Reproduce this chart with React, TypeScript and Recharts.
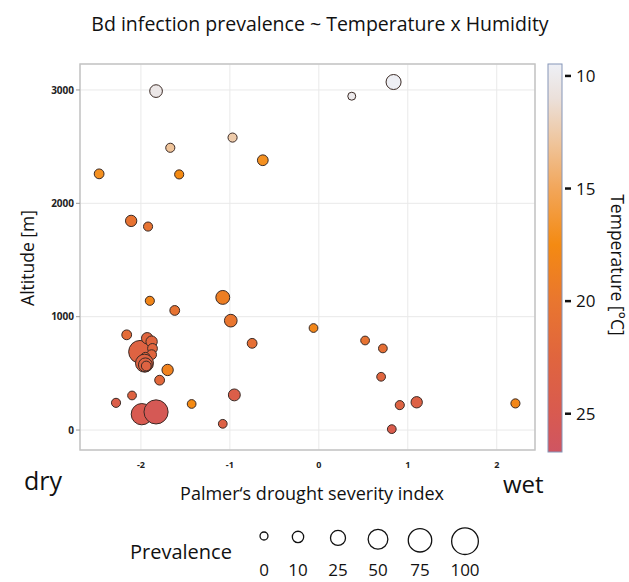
import { ScatterChart, Scatter, XAxis, YAxis, ZAxis, CartesianGrid, ReferenceArea, Cell } from 'recharts';

// Palmer drought severity index per site
const pdsi = [
  -1.83, -1.67, -0.97, -0.63, -2.47, -1.57, -2.11, -1.92, 0.84, 0.37,
  -1.90, -1.62, -1.08, -0.99, -0.75, -2.16, -2.01, -1.93, -1.88, -1.87,
  -1.88, -1.95, -1.96, -1.95, -1.94, -1.70, -1.79, -2.10, -2.28, -1.99,
  -1.83, -1.43, -0.95, -1.08, -0.06, 0.52, 0.72, 0.70, 1.10, 0.91,
  0.82, 2.21,
];
// altitude in metres
const altitude = [
  2990, 2490, 2580, 2380, 2260, 2255, 1845, 1795, 3070, 2945,
  1140, 1055, 1170, 965, 765, 840, 690, 810, 780, 720,
  665, 645, 590, 575, 565, 530, 440, 305, 240, 140,
  160, 230, 310, 55, 900, 790, 720, 470, 245, 220,
  8, 235,
];
// Bd prevalence (%)
const prevalence = [
  15, 3, 3, 8, 5, 3, 10, 3, 25, 0,
  3, 5, 20, 15, 5, 5, 70, 10, 10, 5,
  5, 3, 40, 20, 5, 10, 5, 2, 3, 60,
  80, 2, 12, 2, 2, 2, 2, 2, 10, 3,
  2, 3,
];
// mean temperature (°C)
const temperature = [
  10.3, 13, 12.5, 17, 17, 17.5, 20.5, 20.5, 9.6, 10,
  18, 20.5, 19, 20, 21, 21.5, 23, 22.5, 22.5, 22.5,
  22.5, 22.5, 23, 23, 23, 18.5, 22, 23, 24, 25,
  25.5, 17.5, 24, 23.5, 18, 20.5, 21, 22.5, 23.5, 23,
  24.5, 18,
];

const xTicks = [-2, -1, 0, 1, 2];
const yTicks = [0, 1000, 2000, 3000];
const sizeLegend = [0, 10, 25, 50, 75, 100];
const tempTicks = [10, 15, 20, 25];
const tempStopValues = [9.47, 11, 13, 15, 17.5, 20, 22.5, 25, 26.7];
const tempStopColors = ['#eef0f6', '#ebe0da', '#efc49a', '#f2a65a', '#f48a12', '#e9762f', '#e0653e', '#d85a50', '#cf5562'];

const data = pdsi.map((x, i) => ({ x, y: altitude[i], p: prevalence[i], t: temperature[i] }));

const W = 629;
const H = 582;
const AREA_MIN = 50;
const AREA_MAX = 560;
const TEMP_MIN = tempStopValues[0];
const TEMP_MAX = tempStopValues[tempStopValues.length - 1];

const hex = (c: string) => [1, 3, 5].map((k) => parseInt(c.slice(k, k + 2), 16));

function tempColor(t: number) {
  let i = 0;
  while (i < tempStopValues.length - 2 && t > tempStopValues[i + 1]) i++;
  const a = tempStopValues[i];
  const b = tempStopValues[i + 1];
  const f = Math.max(0, Math.min(1, (t - a) / (b - a)));
  const ca = hex(tempStopColors[i]);
  const cb = hex(tempStopColors[i + 1]);
  const rgb = ca.map((v, k) => Math.round(v + (cb[k] - v) * f));
  return `rgb(${rgb.join(',')})`;
}

const radius = (p: number) => Math.sqrt((AREA_MIN + ((AREA_MAX - AREA_MIN) * p) / 100) / Math.PI);

const font = '"Open Sans", "Noto Sans", sans-serif';

export default function App() {
  const barTop = 64;
  const barBottom = 452;
  const barX = 548;
  const barW = 14;
  const ty = (t: number) => barTop + ((t - TEMP_MIN) / (TEMP_MAX - TEMP_MIN)) * (barBottom - barTop);
  const legendX = [264, 298, 338, 378, 420, 465];

  return (
    <div style={{ position: 'absolute', left: 0, top: 0, width: W, height: H, background: '#fff', fontFamily: font }}>
      <ScatterChart width={W} height={H} margin={{ top: 64, right: 94, bottom: 102, left: 40 }}>
        <CartesianGrid stroke="#e9e9e9" horizontal vertical />
        <XAxis
          type="number"
          dataKey="x"
          domain={[-2.685, 2.43]}
          ticks={xTicks}
          allowDataOverflow
          axisLine={false}
          tickLine={false}
          tickMargin={6}
          height={30}
          tick={{ fill: '#222', fontSize: 9, fontWeight: 700, fontFamily: font }}
        />
        <YAxis
          type="number"
          dataKey="y"
          domain={[-176, 3229]}
          ticks={yTicks}
          allowDataOverflow
          axisLine={false}
          tickSize={4}
          tickLine={{ stroke: '#999' }}
          width={40}
          tick={{ fill: '#222', fontSize: 10, fontWeight: 700, fontFamily: font }}
        />
        <ZAxis type="number" dataKey="p" domain={[0, 100]} range={[AREA_MIN, AREA_MAX]} />
        <ReferenceArea x1={-2.685} x2={2.43} y1={-176} y2={3229} fill="none" stroke="#c4c4c4" strokeWidth={1.5} ifOverflow="visible" />
        <Scatter data={data} isAnimationActive={false} stroke="#3a2a25" strokeWidth={1}>
          {data.map((d, i) => (
            <Cell key={i} fill={tempColor(d.t)} />
          ))}
        </Scatter>
      </ScatterChart>

      <svg width={W} height={H} style={{ position: 'absolute', left: 0, top: 0, pointerEvents: 'none' }} fontFamily={font}>
        <defs>
          <linearGradient id="tempGrad" x1="0" y1="0" x2="0" y2="1">
            {tempStopValues.map((t, i) => (
              <stop key={i} offset={(t - TEMP_MIN) / (TEMP_MAX - TEMP_MIN)} stopColor={tempStopColors[i]} />
            ))}
          </linearGradient>
        </defs>
        <text x={320} y={31} textAnchor="middle" fontSize={19.5} fill="#111">
          Bd infection prevalence ~ Temperature x Humidity
        </text>
        <text transform="translate(34,258) rotate(-90)" textAnchor="middle" fontSize={17.5} fill="#111">
          Altitude [m]
        </text>
        <text x={312} y={500} textAnchor="middle" fontSize={18} fill="#111">
          Palmer‘s drought severity index
        </text>
        <text x={24} y={490} fontSize={25} fill="#111">dry</text>
        <text x={503} y={493} fontSize={24} fill="#111">wet</text>

        {/* colour bar */}
        <rect x={barX} y={barTop} width={barW} height={barBottom - barTop} fill="url(#tempGrad)" stroke="#8596b8" strokeWidth={1} />
        {tempTicks.map((t) => (
          <g key={t}>
            <line x1={barX + barW + 3} x2={barX + barW + 9} y1={ty(t)} y2={ty(t)} stroke="#111" strokeWidth={2.5} />
            <text x={barX + barW + 14} y={ty(t) + 6} fontSize={17} fill="#111">{t}</text>
          </g>
        ))}
        <text transform="translate(611,265) rotate(90)" textAnchor="middle" fontSize={17.5} fill="#111">
          Temperature [°C]
        </text>

        {/* size legend */}
        <text x={130} y={559} fontSize={20} fill="#111">Prevalence</text>
        {sizeLegend.map((p, i) => (
          <g key={p}>
            <circle cx={legendX[i]} cy={536 + (radius(p) - radius(0)) * 0.55} r={radius(p)} fill="#fff" stroke="#111" strokeWidth={1.3} />
            <text x={legendX[i]} y={576} textAnchor="middle" fontSize={17} fill="#111">{p}</text>
          </g>
        ))}
      </svg>
    </div>
  );
}
